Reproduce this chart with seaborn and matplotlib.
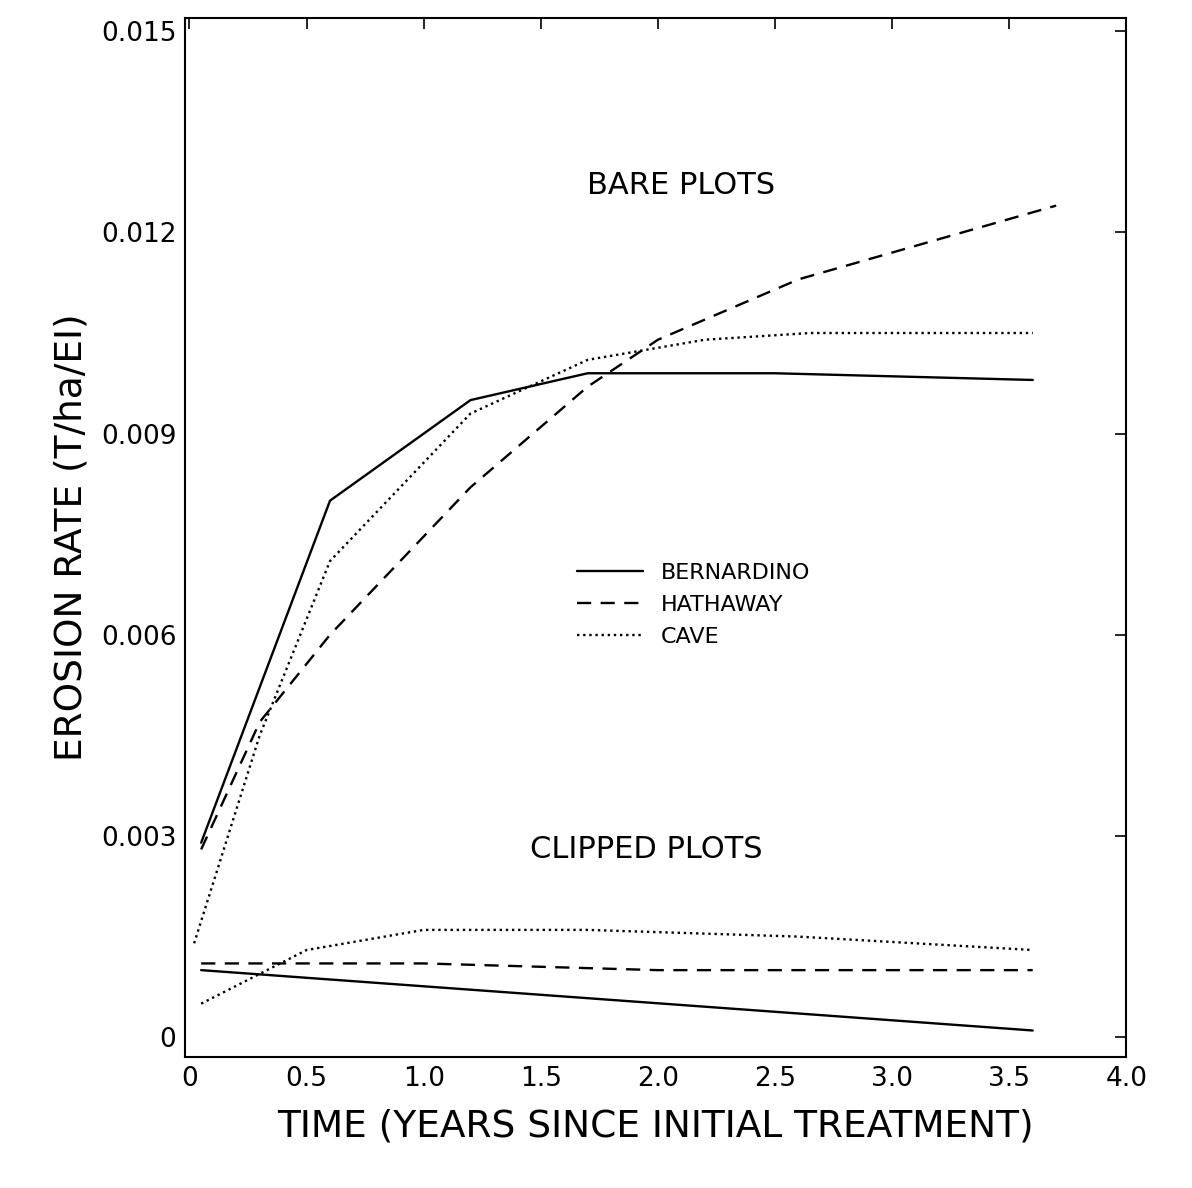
import pandas as pd
import matplotlib.pyplot as plt
import seaborn as sns

sns.set_theme(style="white")
plt.rcParams['font.family'] = ['DejaVu Sans']
plt.rcParams['text.color'] = 'black'
plt.rcParams['axes.labelcolor'] = 'black'

# bare plots
bern_bare_t = [0.05, 0.6, 1.2, 1.7, 2.5, 3.6]
bern_bare_y = [0.0029, 0.0080, 0.0095, 0.0099, 0.0099, 0.0098]
hath_bare_t = [0.05, 0.3, 0.6, 1.2, 1.7, 2.0, 2.6, 3.2, 3.7]
hath_bare_y = [0.0028, 0.0047, 0.0060, 0.0082, 0.0097, 0.0104, 0.0113, 0.0119, 0.0124]
cave_bare_t = [0.02, 0.3, 0.6, 1.2, 1.7, 2.2, 2.65, 3.6]
cave_bare_y = [0.0014, 0.0045, 0.0071, 0.0093, 0.0101, 0.0104, 0.0105, 0.0105]

# clipped plots
bern_clip_t = [0.05, 3.6]
bern_clip_y = [0.0010, 0.0001]
hath_clip_t = [0.05, 1.0, 2.0, 3.6]
hath_clip_y = [0.0011, 0.0011, 0.0010, 0.0010]
cave_clip_t = [0.05, 0.5, 1.0, 1.7, 2.6, 3.6]
cave_clip_y = [0.0005, 0.0013, 0.0016, 0.0016, 0.0015, 0.0013]

sites = ['BERNARDINO', 'HATHAWAY', 'CAVE']
x_ticks = [0, 0.5, 1.0, 1.5, 2.0, 2.5, 3.0, 3.5, 4.0]
x_labels = ['0', '0.5', '1.0', '1.5', '2.0', '2.5', '3.0', '3.5', '4.0']
y_ticks = [0, 0.003, 0.006, 0.009, 0.012, 0.015]
y_labels = ['0', '0.003', '0.006', '0.009', '0.012', '0.015']

rows = []
series = [
    ('BERNARDINO', 'bare', bern_bare_t, bern_bare_y),
    ('HATHAWAY', 'bare', hath_bare_t, hath_bare_y),
    ('CAVE', 'bare', cave_bare_t, cave_bare_y),
    ('BERNARDINO', 'clipped', bern_clip_t, bern_clip_y),
    ('HATHAWAY', 'clipped', hath_clip_t, hath_clip_y),
    ('CAVE', 'clipped', cave_clip_t, cave_clip_y),
]
for site, plot, ts, ys in series:
    for t, y in zip(ts, ys):
        rows.append({'site': site, 'plot': site + plot, 'time': t, 'rate': y})
df = pd.DataFrame(rows)

fig = plt.figure(figsize=(11.92, 11.88), dpi=100)
ax = fig.add_axes([0.155, 0.11, 0.79, 0.875])

sns.lineplot(data=df, x='time', y='rate', style='site', style_order=sites,
             units='plot', estimator=None, color='black', linewidth=1.7,
             dashes={'BERNARDINO': '', 'HATHAWAY': (6, 4), 'CAVE': (1, 1.6)},
             sort=False, ax=ax)

ax.set_xlim(-0.02, 4.0)
ax.set_ylim(-0.0003, 0.0152)
ax.set_xticks(x_ticks)
ax.set_xticklabels(x_labels, fontsize=19)
ax.set_yticks(y_ticks)
ax.set_yticklabels(y_labels, fontsize=19)
ax.tick_params(direction='in', length=8, width=1.2, top=True, right=True,
               labeltop=False, labelright=False, colors='black', pad=6)
for s in ax.spines.values():
    s.set_color('black')
    s.set_linewidth(1.5)

ax.set_xlabel('TIME (YEARS SINCE INITIAL TREATMENT)', fontsize=27, labelpad=12)
ax.set_ylabel('EROSION RATE (T/ha/EI)', fontsize=27, labelpad=8)

ax.text(2.1, 0.0127, 'BARE PLOTS', fontsize=22, ha='center', va='center')
ax.text(1.95, 0.0028, 'CLIPPED PLOTS', fontsize=22, ha='center', va='center')

ax.legend(loc='upper left', bbox_to_anchor=(0.395, 0.495), frameon=False,
          fontsize=16, handlelength=3.0, labelspacing=0.55)

plt.savefig('out.png', dpi=100)
plt.close()
